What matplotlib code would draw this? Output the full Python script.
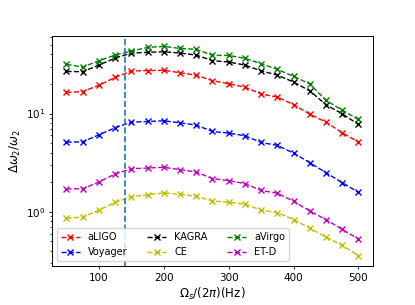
import matplotlib
matplotlib.use("Agg")
import matplotlib.pyplot as plt

freqs = [50, 75, 100, 125, 150, 175, 200, 225, 250, 275, 300,
         325, 350, 375, 400, 425, 450, 475, 500]

aligo = [16.4, 16.7, 19.4, 23.3, 27.1, 27.3, 27.5, 26.0, 24.5, 21.6, 20.1,
         18.5, 15.8, 14.7, 12.3, 9.85, 8.17, 6.37, 5.12]
voyager = [5.12, 5.16, 6.08, 7.16, 8.17, 8.30, 8.43, 8.04, 7.62, 6.57, 6.32,
           5.94, 5.08, 4.74, 3.96, 3.16, 2.50, 1.98, 1.58]
kagra = [26.8, 26.6, 31.1, 36.6, 41.2, 41.9, 42.5, 41.2, 39.3, 34.5, 33.4,
         31.1, 27.1, 24.6, 20.9, 17.0, 12.3, 9.93, 7.74]
ce = [0.863, 0.883, 1.04, 1.25, 1.43, 1.49, 1.56, 1.51, 1.44, 1.29, 1.25,
      1.20, 1.04, 0.984, 0.836, 0.683, 0.553, 0.456, 0.360]
avirgo = [31.6, 29.7, 34.4, 39.3, 43.2, 47.0, 48.1, 45.9, 44.9, 39.0, 39.0,
          36.4, 32.1, 28.1, 23.9, 20.0, 13.6, 10.8, 8.7]
etd = [1.71, 1.72, 2.01, 2.43, 2.75, 2.79, 2.84, 2.69, 2.54, 2.18, 2.08,
       1.94, 1.65, 1.55, 1.28, 1.02, 0.836, 0.662, 0.528]

f_cut = 140

fig, ax = plt.subplots(figsize=(4.15, 3.05), dpi=100)
fig.subplots_adjust(left=0.125, right=0.899, top=0.882, bottom=0.128)

style = dict(linewidth=1.0, markersize=4.5)
ax.semilogy(freqs, aligo, 'r--x', label='aLIGO', **style)
ax.semilogy(freqs, voyager, 'b--x', label='Voyager', **style)
ax.semilogy(freqs, kagra, 'k--x', label='KAGRA', **style)
ax.semilogy(freqs, ce, 'y--x', label='CE', **style)
ax.semilogy(freqs, avirgo, 'g--x', label='aVirgo', **style)
ax.semilogy(freqs, etd, 'm--x', label='ET-D', **style)
ax.axvline(f_cut, linestyle='--', linewidth=1.2)

for sp in ax.spines.values():
    sp.set_linewidth(0.7)
ax.set_xlabel(r'$\Omega_s/(2\pi)$(Hz)', fontsize=8.5, labelpad=2)
ax.set_ylabel(r'$\Delta\omega_2/\omega_2$', fontsize=8.5, labelpad=2)
ax.tick_params(labelsize=7.5, length=2.5, width=0.6, pad=2.3)
ax.tick_params(which='minor', length=1.4, width=0.5)
ax.legend(ncol=3, loc='lower left', fontsize=7)

plt.savefig('out.png')
